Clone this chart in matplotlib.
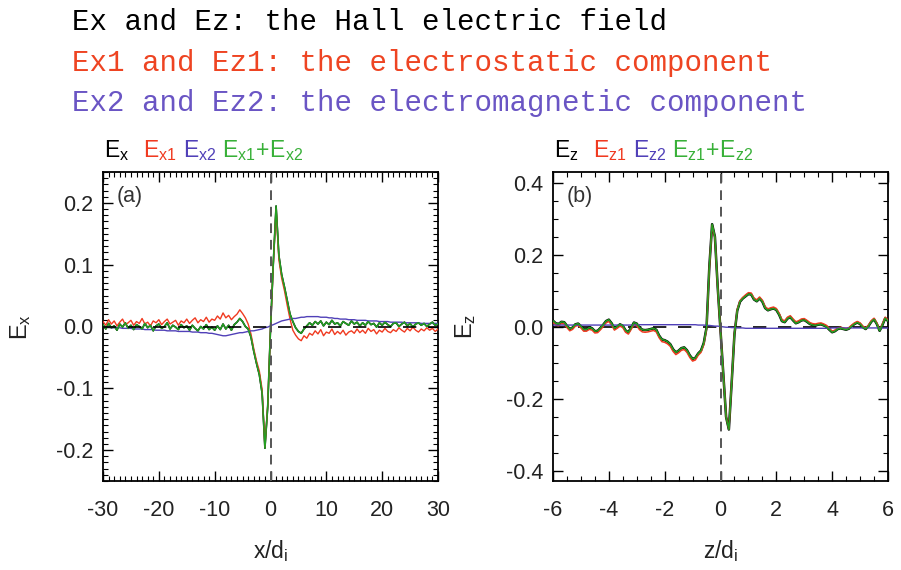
import numpy as np
import matplotlib
matplotlib.use("Agg")
import matplotlib.pyplot as plt
from matplotlib.ticker import MultipleLocator

plt.rcParams['font.family'] = ['Liberation Sans', 'DejaVu Sans']
plt.rcParams['mathtext.fontset'] = 'custom'
plt.rcParams['mathtext.rm'] = 'Liberation Sans'
plt.rcParams['mathtext.it'] = 'Liberation Sans:italic'
plt.rcParams['mathtext.bf'] = 'Liberation Sans:bold'
plt.rcParams['axes.unicode_minus'] = False

# ---------------- data: panel (a), x/d_i from -30 to 30, step 0.5 ----------------
x_a = np.linspace(-30, 30, 121)

ex1 = [  # electrostatic component (red)
    0.008, 0.002, 0.011, 0.004, 0.009, 0.001, 0.007, 0.012, 0.003, 0.006,
    0.010, 0.002, 0.008, 0.005, 0.013, 0.004, 0.007, 0.001, 0.009, 0.006,
    0.011, 0.003, 0.008, 0.012, 0.004, 0.007, 0.010, 0.002, 0.009, 0.006,
    0.012, 0.005, 0.010, 0.014, 0.006, 0.011, 0.008, 0.015, 0.007, 0.012,
    0.010, 0.017, 0.012, 0.022, 0.014, 0.018, 0.011, 0.016,
    0.020, 0.027, 0.021, 0.014, 0.004, -0.012, -0.036, -0.056, -0.072, -0.102,
    -0.195, -0.128, -0.005, 0.100, 0.190, 0.108, 0.078, 0.058, 0.034, 0.012,
    -0.006, -0.014, -0.020, -0.023, -0.015, -0.019, -0.011,
    -0.014, -0.007, -0.012, -0.005, -0.015, -0.009, -0.011, -0.004, -0.013, -0.008,
    -0.012, -0.006, -0.014, -0.009, -0.007, -0.011,
    -0.004, -0.010, -0.006, -0.011, -0.003, -0.008, -0.005, -0.012, -0.006, -0.009,
    -0.003, -0.008, -0.010, -0.005,
    -0.008, -0.002, -0.006, -0.009, -0.003, -0.007, -0.001, -0.006, -0.009, -0.004,
    -0.007, -0.002, -0.006, -0.003, -0.008, -0.004,
]

ex2 = [  # electromagnetic component (purple)
    -0.001, -0.001, -0.001, -0.002, -0.002, -0.002, -0.002, -0.003, -0.003, -0.003,
    -0.003, -0.004, -0.004, -0.004, -0.004, -0.005, -0.005, -0.005, -0.005, -0.006,
    -0.006, -0.006, -0.006, -0.007, -0.007, -0.007, -0.007, -0.008, -0.008, -0.008,
    -0.008, -0.008, -0.009, -0.009, -0.009, -0.010, -0.010, -0.010, -0.011, -0.011,
    -0.012, -0.013, -0.014, -0.015, -0.015, -0.014, -0.013, -0.012,
    -0.011, -0.010, -0.010, -0.009, -0.008, -0.007, -0.007, -0.006, -0.005, -0.004,
    -0.002, -0.001, 0.001, 0.003, 0.005, 0.007, 0.009, 0.010, 0.011, 0.012,
    0.013, 0.013, 0.014, 0.015, 0.015, 0.016, 0.016,
    0.016, 0.016, 0.016, 0.015, 0.015, 0.015, 0.014, 0.014, 0.013, 0.013,
    0.012, 0.012, 0.012, 0.011, 0.011, 0.011,
    0.010, 0.010, 0.010, 0.010, 0.009, 0.009, 0.009, 0.009, 0.008, 0.008,
    0.008, 0.008, 0.007, 0.007,
    0.007, 0.007, 0.007, 0.006, 0.006, 0.006, 0.006, 0.006, 0.006, 0.005,
    0.005, 0.005, 0.005, 0.005, 0.005, 0.005,
]

ex_total = [  # Hall field Ex = Ex1 + Ex2 (black / green)
    0.003, -0.004, 0.005, -0.002, 0.001, -0.006, 0.004, -0.001, 0.006, -0.003,
    0.002, -0.005, 0.003, 0.000, -0.004, 0.005, -0.002, 0.002, -0.007, 0.001,
    0.004, -0.003, 0.000, 0.006, -0.004, 0.002, -0.001, -0.005, 0.003, -0.002,
    0.001, -0.006, 0.002, -0.003, -0.007, 0.000, -0.004, 0.003, -0.005, -0.001,
    -0.006, 0.001, -0.005, 0.004, -0.004, 0.002, -0.006, 0.003,
    0.007, 0.013, 0.008, 0.000, -0.004, -0.017, -0.040, -0.060, -0.078, -0.108,
    -0.197, -0.130, -0.004, 0.102, 0.195, 0.115, 0.084, 0.064, 0.042, 0.020,
    0.008, -0.002, -0.008, -0.011, -0.004, 0.001, 0.006,
    0.002, 0.008, 0.004, 0.009, 0.001, 0.007, 0.003, 0.010, 0.004, 0.006,
    0.001, 0.008, 0.005, 0.002, 0.009, 0.004,
    0.007, 0.001, 0.006, 0.002, 0.008, 0.003, 0.005, -0.001, 0.006, 0.002,
    0.007, 0.003, 0.000, 0.005,
    0.006, 0.000, 0.004, 0.007, 0.001, 0.005, -0.001, 0.004, 0.006, 0.002,
    0.005, 0.000, 0.004, 0.007, 0.002, 0.004,
]

# ---------------- data: panel (b), z/d_i from -6 to 6, step 0.1 ----------------
z_b = np.linspace(-6, 6, 121)

ez_total = [
    0.017, 0.010, 0.008, 0.014, 0.013, 0.003, -0.006, -0.002, 0.007, 0.009,
    0.002, -0.007, -0.007, -0.002, -0.004, -0.012, -0.011, -0.003, 0.006, 0.016,
    0.020, 0.010, -0.004, 0.001, 0.007, 0.003, -0.010, -0.015, -0.002, 0.012,
    0.009, -0.002, -0.008, -0.009, -0.008, -0.006, -0.004, -0.008, -0.024, -0.035,
    -0.037, -0.041, -0.048, -0.062, -0.071, -0.066, -0.059, -0.057, -0.065, -0.079,
    -0.089, -0.086, -0.074, -0.066, -0.045, -0.002, 0.167, 0.285, 0.250, 0.110,
    -0.010, -0.130, -0.250, -0.285, -0.155, -0.020, 0.045, 0.070, 0.079, 0.085,
    0.091, 0.090, 0.076, 0.071, 0.079, 0.070, 0.052, 0.046, 0.049, 0.051,
    0.047, 0.034, 0.016, 0.013, 0.023, 0.027, 0.018, 0.010, 0.013, 0.018,
    0.019, 0.014, 0.008, 0.005, 0.004, 0.006, 0.007, 0.004, 0.000, -0.008,
    -0.015, -0.012, -0.006, -0.004, -0.006, -0.008, -0.005, 0.002, 0.008, 0.012,
    0.008, -0.001, -0.006, 0.002, 0.014, 0.021, 0.008, -0.011, 0.005, 0.024,
    0.016,
]

ez1 = [
    0.012, 0.005, 0.003, 0.009, 0.008, -0.002, -0.011, -0.007, 0.002, 0.004,
    -0.003, -0.012, -0.012, -0.007, -0.009, -0.017, -0.016, -0.008, 0.001, 0.011,
    0.015, 0.005, -0.009, -0.004, 0.002, -0.002, -0.015, -0.020, -0.007, 0.007,
    0.003, -0.008, -0.014, -0.015, -0.014, -0.012, -0.010, -0.014, -0.030, -0.041,
    -0.043, -0.047, -0.054, -0.068, -0.077, -0.072, -0.065, -0.063, -0.071, -0.085,
    -0.095, -0.092, -0.079, -0.071, -0.050, -0.006, 0.163, 0.282, 0.248, 0.108,
    -0.011, -0.130, -0.249, -0.284, -0.153, -0.018, 0.048, 0.073, 0.082, 0.089,
    0.095, 0.094, 0.080, 0.075, 0.083, 0.074, 0.056, 0.050, 0.053, 0.055,
    0.051, 0.038, 0.020, 0.017, 0.027, 0.031, 0.022, 0.014, 0.017, 0.022,
    0.023, 0.018, 0.012, 0.009, 0.008, 0.010, 0.011, 0.008, 0.004, -0.004,
    -0.012, -0.009, -0.003, -0.001, -0.003, -0.005, -0.002, 0.005, 0.011, 0.015,
    0.011, 0.002, -0.003, 0.005, 0.017, 0.024, 0.011, -0.008, 0.008, 0.027,
    0.019,
]

ez2 = [
    0.005, 0.005, 0.005, 0.005, 0.005, 0.005, 0.005, 0.005, 0.005, 0.005,
    0.005, 0.005, 0.005, 0.005, 0.005, 0.005, 0.005, 0.005, 0.005, 0.005,
    0.005, 0.005, 0.005, 0.005, 0.005, 0.005, 0.005, 0.005, 0.005, 0.005,
    0.006, 0.006, 0.006, 0.006, 0.006, 0.006, 0.006, 0.006, 0.006, 0.006,
    0.006, 0.006, 0.006, 0.006, 0.006, 0.006, 0.006, 0.006, 0.006, 0.006,
    0.006, 0.006, 0.005, 0.005, 0.005, 0.004, 0.004, 0.003, 0.002, 0.002,
    0.001, 0.000, -0.001, -0.001, -0.002, -0.002, -0.003, -0.003, -0.003, -0.004,
    -0.004, -0.004, -0.004, -0.004, -0.004, -0.004, -0.004, -0.004, -0.004, -0.004,
    -0.004, -0.004, -0.004, -0.004, -0.004, -0.004, -0.004, -0.004, -0.004, -0.004,
    -0.004, -0.004, -0.004, -0.004, -0.004, -0.004, -0.004, -0.004, -0.004, -0.004,
    -0.003, -0.003, -0.003, -0.003, -0.003, -0.003, -0.003, -0.003, -0.003, -0.003,
    -0.003, -0.003, -0.003, -0.003, -0.003, -0.003, -0.003, -0.003, -0.003, -0.003,
    -0.003,
]

title_lines = [
    "Ex and Ez: the Hall electric field",
    "Ex1 and Ez1: the electrostatic component",
    "Ex2 and Ez2: the electromagnetic component",
]

# ---------------- styles ----------------
C_BLACK = '#000000'
C_RED = '#f03a20'
C_PURPLE = '#5040b8'
C_GREEN = '#22a022'
C_TXT_RED = '#ee4422'
C_TXT_PURPLE = '#6a55c4'
C_LEG_GREEN = '#38b038'

W, H = 901, 570
fig = plt.figure(figsize=(W / 100, H / 100), dpi=100)

def px_axes(l, t, r, b):
    return [l / W, 1 - b / H, (r - l) / W, (b - t) / H]

ax_a = fig.add_axes(px_axes(103, 172, 438, 481))
ax_b = fig.add_axes(px_axes(553, 172, 888, 481))

def style_axes(ax, xmaj, xmin, ymaj, ymin):
    ax.xaxis.set_major_locator(MultipleLocator(xmaj))
    ax.xaxis.set_minor_locator(MultipleLocator(xmin))
    ax.yaxis.set_major_locator(MultipleLocator(ymaj))
    ax.yaxis.set_minor_locator(MultipleLocator(ymin))
    ax.tick_params(which='both', direction='in', top=True, right=True,
                   colors='black', labelcolor='#222222')
    ax.tick_params(which='major', length=7, width=1.0, labelsize=15.5)
    ax.tick_params(which='minor', length=3.5, width=0.8)
    ax.tick_params(axis='x', which='major', pad=14)
    ax.tick_params(axis='y', which='major', pad=7)
    for s in ax.spines.values():
        s.set_linewidth(1.3)
        s.set_color('black')

# ---- panel (a)
ex_tot = np.array(ex_total)
ax_a.plot(x_a, ex_tot, color=C_BLACK, lw=1.2, zorder=2)
ax_a.plot(x_a, ex1, color=C_RED, lw=1.0, zorder=3)
ax_a.plot(x_a, ex2, color=C_PURPLE, lw=1.0, zorder=4)
ax_a.plot(x_a, ex_tot, color=C_GREEN, lw=1.1, zorder=5)
ax_a.axhline(0, color='black', lw=1.2, ls=(0, (8, 7)), zorder=6)
ax_a.axvline(0, color='#555555', lw=1.4, ls=(0, (5, 3.5)), zorder=6)
ax_a.set_xlim(-30, 30)
ax_a.set_ylim(-0.25, 0.25)
style_axes(ax_a, 10, 1, 0.1, 0.01)
ax_a.yaxis.set_major_formatter(plt.FuncFormatter(lambda v, p: f"{v:.1f}"))
ax_a.xaxis.set_major_formatter(plt.FuncFormatter(lambda v, p: f"{v:.0f}"))
ax_a.set_xlabel(r'x/d$_\mathrm{i}$', fontsize=16.5, color='#222222')
ax_a.set_ylabel(r'$\mathrm{E_x}$', fontsize=17, color='#222222')
ax_a.xaxis.set_label_coords(0.5, -0.185)
ax_a.yaxis.set_label_coords(-0.21, 0.5)
ax_a.text(0.04, 0.955, '(a)', transform=ax_a.transAxes, fontsize=15.5,
          color='#333333', va='top', ha='left')

# ---- panel (b)
ez_tot = np.array(ez_total)
ax_b.plot(z_b, ez_tot, color=C_BLACK, lw=1.8, zorder=2)
ax_b.plot(z_b, ez1, color=C_RED, lw=1.1, zorder=3)
ax_b.plot(z_b, ez2, color=C_PURPLE, lw=1.0, zorder=4)
ax_b.plot(z_b, ez_tot, color=C_GREEN, lw=1.1, zorder=5)
ax_b.axhline(0, color='black', lw=1.2, ls=(0, (8, 7)), zorder=1)
ax_b.axvline(0, color='#555555', lw=1.4, ls=(0, (5, 3.5)), zorder=6)
ax_b.set_xlim(-6, 6)
ax_b.set_ylim(-0.428, 0.43)
style_axes(ax_b, 2, 0.5, 0.2, 0.05)
ax_b.yaxis.set_major_formatter(plt.FuncFormatter(lambda v, p: f"{v:.1f}"))
ax_b.xaxis.set_major_formatter(plt.FuncFormatter(lambda v, p: f"{v:.0f}"))
ax_b.set_xlabel(r'z/d$_\mathrm{i}$', fontsize=16.5, color='#222222')
ax_b.set_ylabel(r'$\mathrm{E_z}$', fontsize=17, color='#222222')
ax_b.xaxis.set_label_coords(0.5, -0.185)
ax_b.yaxis.set_label_coords(-0.225, 0.5)
ax_b.text(0.04, 0.955, '(b)', transform=ax_b.transAxes, fontsize=15.5,
          color='#333333', va='top', ha='left')

# ---- legends above panels
def legend_row(x_positions, comp, y_px=157):
    labels = [rf'$\mathrm{{E_{comp}}}$', rf'$\mathrm{{E_{{{comp}1}}}}$',
              rf'$\mathrm{{E_{{{comp}2}}}}$',
              rf'$\mathrm{{E_{{{comp}1}}\!+\!E_{{{comp}2}}}}$']
    cols = [C_BLACK, C_RED, C_PURPLE, C_LEG_GREEN]
    for xp, lab, c in zip(x_positions, labels, cols):
        fig.text(xp / W, 1 - y_px / H, lab, color=c, fontsize=16.5,
                 ha='left', va='baseline')

legend_row([104, 143, 183, 222], 'x')
legend_row([554, 593, 633, 672], 'z')

# ---- title lines
title_cols = [C_BLACK, C_TXT_RED, C_TXT_PURPLE]
title_y = [30, 71, 111]
for line, c, yp in zip(title_lines, title_cols, title_y):
    fig.text(72 / W, 1 - yp / H, line, color=c, fontsize=21,
             family='Liberation Mono', ha='left', va='baseline')

fig.savefig('out.png', dpi=100)
